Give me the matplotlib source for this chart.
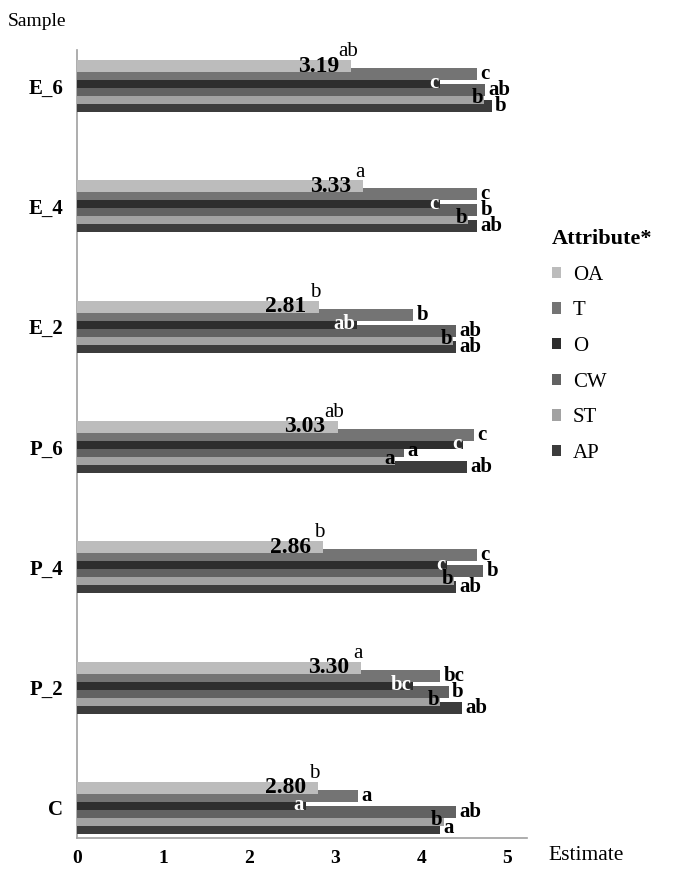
import numpy as np
import matplotlib.pyplot as plt
import matplotlib.patches as mpatches

plt.rcParams["font.family"] = ["Liberation Serif", "DejaVu Serif"]

# samples from bottom to top
samples = ["C", "P_2", "P_4", "P_6", "E_2", "E_4", "E_6"]
attributes = ["OA", "T", "O", "CW", "ST", "AP"]
colors = ["#bcbcbc", "#747474", "#2e2e2e", "#626262", "#a2a2a2", "#3c3c3c"]

oa = [2.80, 3.30, 2.86, 3.03, 2.81, 3.33, 3.19]
t = [3.27, 4.22, 4.65, 4.61, 3.91, 4.65, 4.65]
o = [2.66, 3.91, 4.30, 4.49, 3.26, 4.22, 4.22]
cw = [4.40, 4.32, 4.72, 3.80, 4.41, 4.65, 4.74]
st = [4.26, 4.22, 4.38, 3.70, 4.37, 4.55, 4.73]
ap = [4.22, 4.47, 4.41, 4.53, 4.41, 4.65, 4.82]

oa_let = ["b", "a", "b", "ab", "b", "a", "ab"]
t_let = ["a", "bc", "c", "c", "b", "c", "c"]
o_let = ["a", "bc", "c", "c", "ab", "c", "c"]
cw_let = ["ab", "b", "b", "a", "ab", "b", "ab"]
st_let = ["b", "b", "b", "a", "b", "b", "b"]
ap_let = ["a", "ab", "ab", "ab", "ab", "ab", "b"]

values = [oa, t, o, cw, st, ap]
letters = [oa_let, t_let, o_let, cw_let, st_let, ap_let]

fig = plt.figure(figsize=(6.89, 8.74), dpi=100)
ax = fig.add_axes([0.1118, 0.0412, 0.653, 0.9016])

ypos = np.arange(len(samples))
pitch = 0.0665
height = 0.10

for i, (attr, vals, col) in enumerate(zip(attributes, values, colors)):
    off = (2.5 - i) * pitch
    ax.barh(ypos + off, vals, height=height, color=col, zorder=10 - i, label=attr)

for j, y in enumerate(ypos):
    # overall acceptance: mean value + superscript letter
    yb = y + 2.5 * pitch
    ax.text(oa[j] - 0.14, yb, f"{oa[j]:.2f}", ha="right", va="center",
            fontsize=17, fontweight="bold", zorder=20)
    ax.text(oa[j] - 0.04, yb + height / 2 - 0.01, oa_let[j], ha="center", va="bottom",
            fontsize=15, zorder=20)
    for i in range(1, 6):
        off = (2.5 - i) * pitch
        v = values[i][j]
        s = letters[i][j]
        if attributes[i] == "O":
            ax.text(v - 0.02, y + off - 0.01, s, ha="right", va="center", color="white",
                    fontsize=15, fontweight="bold", zorder=20)
        elif attributes[i] == "ST":
            ax.text(v - 0.01, y + off, s, ha="right", va="center", color="black",
                    fontsize=15, fontweight="bold", zorder=20)
        else:
            ax.text(v + 0.04, y + off, s, ha="left", va="center", color="black",
                    fontsize=15, fontweight="bold", zorder=20)

ax.set_xlim(0, 5.23)
ax.set_ylim(-0.25, 6.30)
ax.set_xticks(np.arange(0, 6))
ax.set_yticks(ypos)
ax.set_yticklabels(samples, fontsize=15, fontweight="bold")
for lab in ax.get_xticklabels():
    lab.set_fontsize(14)
    lab.set_fontweight("bold")
ax.tick_params(axis="x", length=0, pad=9)
ax.tick_params(axis="y", length=0, pad=10)

for side in ["top", "right"]:
    ax.spines[side].set_visible(False)
for side in ["left", "bottom"]:
    ax.spines[side].set_color("#a0a0a0")
    ax.spines[side].set_linewidth(1.2)

fig.text(8 / 689, 1 - 22 / 874, "Sample", fontsize=14, va="center", ha="left")
fig.text(548 / 689, 1 - 856 / 874, "Estimate", fontsize=15.5, va="center", ha="left")

handles = [mpatches.Patch(facecolor=c, label=a) for c, a in zip(colors, attributes)]
leg = fig.legend(handles=handles, loc="upper left", bbox_to_anchor=(552 / 689, 1 - 229 / 874),
                 frameon=False, title="Attribute*", alignment="left", borderpad=0,
                 borderaxespad=0, handlelength=0.45, handleheight=0.45, handletextpad=0.55,
                 labelspacing=0.8, prop={"size": 15},
                 title_fontproperties={"size": 16, "weight": "bold"})

fig.savefig("out.png", dpi=100)
